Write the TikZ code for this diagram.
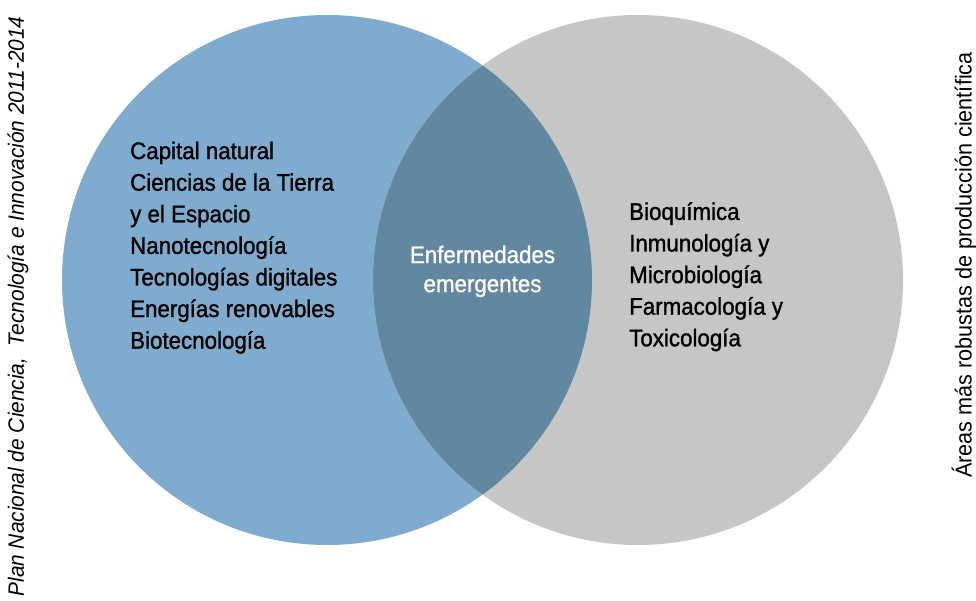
\documentclass[tikz,border=0pt]{standalone}
\usepackage{fontspec}
\setmainfont[FakeStretch=0.94]{Liberation Sans}
\newfontfamily\listfont[FakeStretch=0.93, FakeBold=1.2]{Liberation Sans}
\definecolor{planblue}{HTML}{7FACCE}
\definecolor{areagrey}{HTML}{C6C6C6}
\definecolor{lensblue}{HTML}{6287A0}
\tikzset{
  listtext/.style={anchor=north west, align=left, inner sep=0pt,
    font=\listfont\fontsize{24}{31.6}\selectfont},
  sidetext/.style={rotate=90, inner sep=0pt, font=\fontsize{23}{27}\selectfont}
}
\begin{document}
\begin{tikzpicture}[x=1pt, y=-1pt]
  \useasboundingbox (0,0) rectangle (976,601);

  % --- Circles ---
  \fill[planblue] (327,280) circle (265);
  \fill[areagrey] (638,280) circle (265);
  \begin{scope}
    \clip (327,280) circle (265);
    \fill[lensblue] (638,280) circle (265);
  \end{scope}

  % --- Lists ---
  \node[listtext] (plan) at (130,141.5)
    {Capital natural\\Ciencias de la Tierra\\y el Espacio\\Nanotecnología\\
     Tecnologías digitales\\Energías renovables\\Biotecnología};
  \node[listtext] (areas) at (629,202)
    {Bioquímica\\Inmunología y\\Microbiología\\Farmacología y\\Toxicología};
  \node[listtext, anchor=north, align=center, text=white,
    font=\listfont\fontsize{24}{29}\selectfont] (common) at (482.5,245.5)
    {Enfermedades\\emergentes};

  % --- Side titles ---
  \node[sidetext, font=\fontsize{22.2}{27}\itshape] (plantitle) at (18,306.5)
    {Plan Nacional de Ciencia,\ \ Tecnología e Innovación 2011-2014};
  \node[sidetext] (areastitle) at (964,265)
    {Áreas más robustas de producción científica};
\end{tikzpicture}
\end{document}
